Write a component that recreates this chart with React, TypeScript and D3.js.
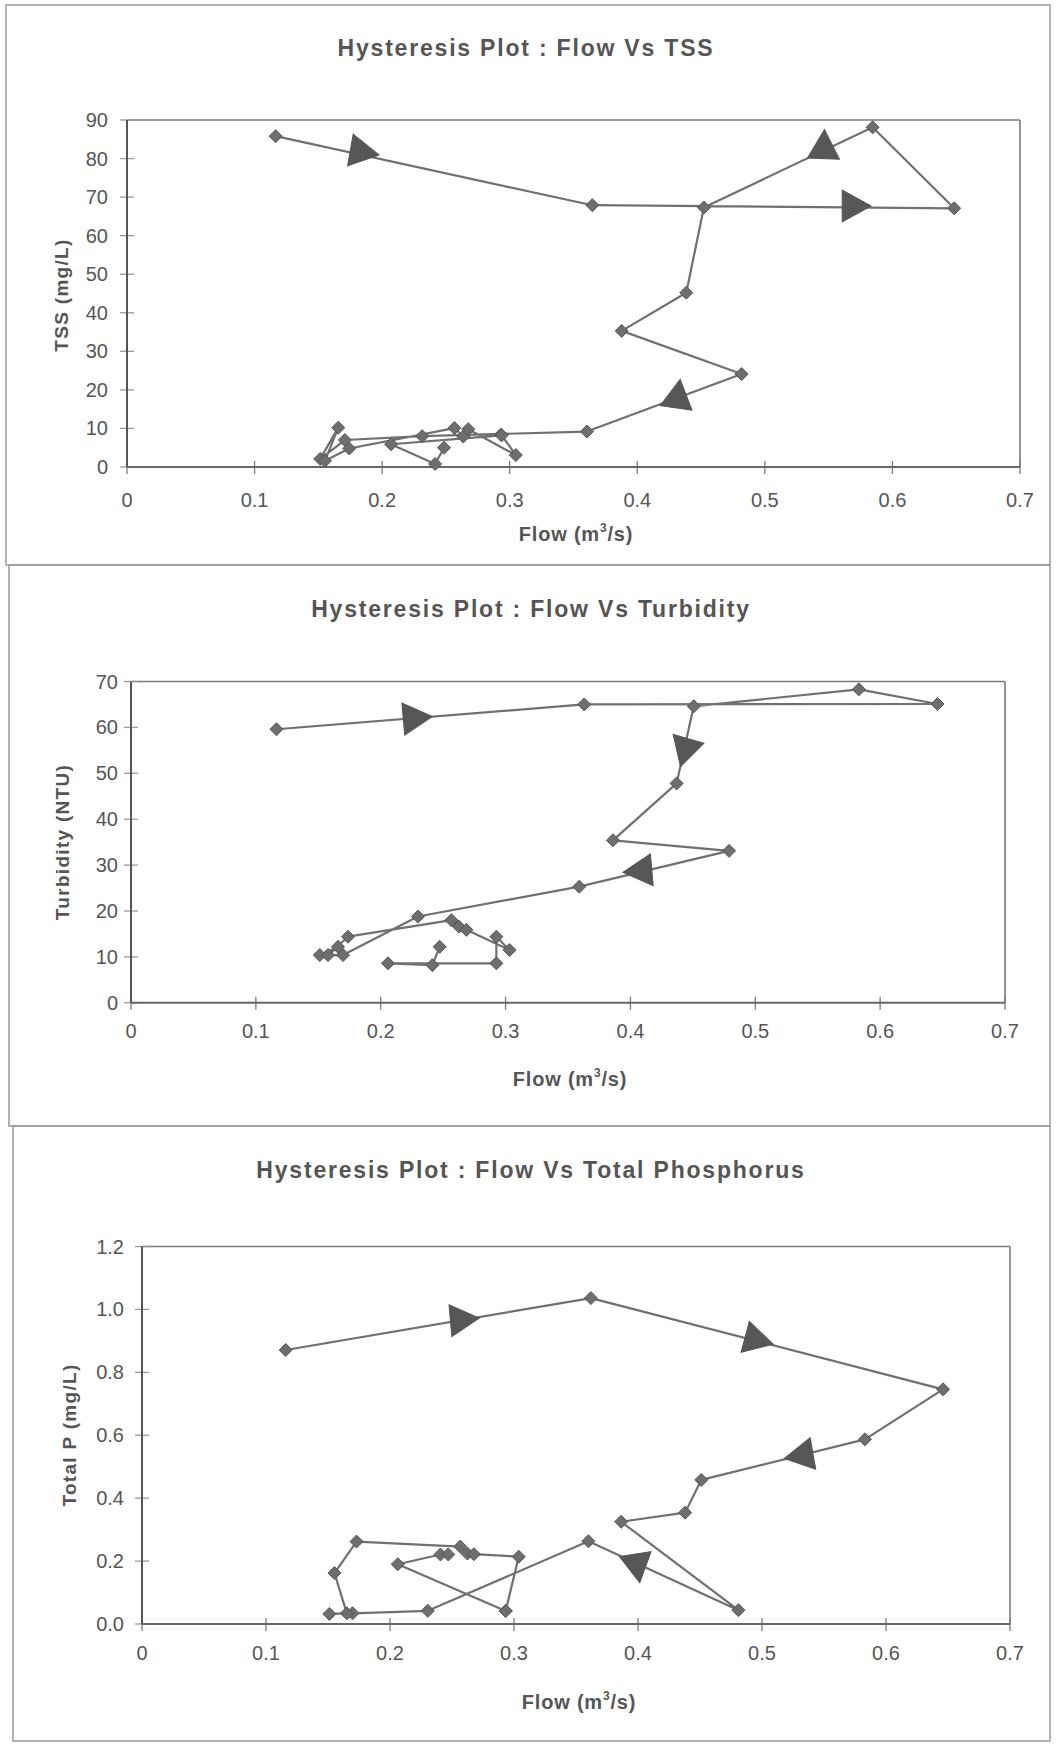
import React from 'react';
import * as d3 from 'd3';

// ---------- data ----------
const flowTicks = [0, 0.1, 0.2, 0.3, 0.4, 0.5, 0.6, 0.7];

const tssFlow = [0.1165, 0.3648, 0.6484, 0.5845, 0.4522, 0.4384, 0.3878, 0.4818, 0.3605, 0.2314, 0.1708, 0.1515, 0.1656, 0.1552, 0.1742, 0.2566, 0.2636, 0.2675, 0.3048, 0.2932, 0.2936, 0.207, 0.2415, 0.2485];
const tssValues = [85.8, 67.9, 67.1, 88.1, 67.3, 45.2, 35.3, 24.1, 9.2, 8.0, 7.0, 2.1, 10.2, 1.6, 4.8, 10.1, 7.9, 9.8, 3.1, 8.4, 8.2, 5.9, 0.8, 5.0];
const tssTicks = [0, 10, 20, 30, 40, 50, 60, 70, 80, 90];

const turbFlow = [0.1165, 0.363, 0.646, 0.583, 0.4507, 0.437, 0.386, 0.479, 0.359, 0.2298, 0.1698, 0.1512, 0.1658, 0.1578, 0.1738, 0.2566, 0.2626, 0.2686, 0.3032, 0.2926, 0.2926, 0.2058, 0.2414, 0.2472];
const turbValues = [59.6, 65.0, 65.1, 68.3, 64.6, 47.8, 35.4, 33.1, 25.3, 18.8, 10.4, 10.4, 12.2, 10.4, 14.4, 18.0, 16.6, 15.9, 11.5, 14.4, 8.6, 8.6, 8.2, 12.2];
const turbTicks = [0, 10, 20, 30, 40, 50, 60, 70];

const tpFlow = [0.1159, 0.362, 0.646, 0.583, 0.451, 0.438, 0.3864, 0.481, 0.36, 0.2305, 0.1698, 0.1511, 0.1652, 0.1552, 0.173, 0.2567, 0.2624, 0.2677, 0.3038, 0.2933, 0.2933, 0.2063, 0.2407, 0.247];
const tpValues = [0.871, 1.036, 0.746, 0.587, 0.458, 0.354, 0.325, 0.044, 0.263, 0.042, 0.034, 0.032, 0.034, 0.162, 0.262, 0.246, 0.224, 0.222, 0.214, 0.042, 0.041, 0.19, 0.221, 0.221];
const tpTicks = [0, 0.2, 0.4, 0.6, 0.8, 1.0, 1.2];

// direction arrows: position in data units, pointing angle in degrees
const tssArrows = [
  { flow: 0.1826, value: 81.8, angle: 10 },
  { flow: 0.5682, value: 67.7, angle: 0 },
  { flow: 0.5462, value: 82.5, angle: -88 },
  { flow: 0.4315, value: 17.8, angle: -82 },
];
const turbArrows = [
  { flow: 0.2258, value: 62.0, angle: -5 },
  { flow: 0.4444, value: 55.5, angle: 106 },
  { flow: 0.4094, value: 28.8, angle: 175 },
];
const tpArrows = [
  { flow: 0.2565, value: 0.967, angle: -5 },
  { flow: 0.494, value: 0.905, angle: 15 },
  { flow: 0.5334, value: 0.537, angle: 170 },
  { flow: 0.399, value: 0.192, angle: 81 },
];

// ---------- layout ----------
const FONT = "'Liberation Sans', Arial, Helvetica, sans-serif";
const TEXT = '#555';

const panels = [
  {
    title: 'Hysteresis Plot : Flow Vs TSS', yLabel: 'TSS (mg/L)',
    flow: tssFlow, values: tssValues, yTicks: tssTicks, yMax: 90, fmt: (v: number) => String(v),
    arrows: tssArrows,
    frame: { left: 6, right: 1050, top: 5, bottom: 565 },
    x0: 127, x1: 1020, yTop: 120, yBottom: 467,
    titleX: 526, titleY: 56, yLabX: 63, yLabY: 295, yTickRight: 108,
    xTickY: 507, xLabX: 576, xLabY: 541,
  },
  {
    title: 'Hysteresis Plot : Flow Vs Turbidity', yLabel: 'Turbidity (NTU)',
    flow: turbFlow, values: turbValues, yTicks: turbTicks, yMax: 70, fmt: (v: number) => String(v),
    arrows: turbArrows,
    frame: { left: 9, right: 1050, top: 565, bottom: 1126 },
    x0: 131, x1: 1005, yTop: 681.5, yBottom: 1002.8,
    titleX: 531, titleY: 617, yLabX: 64, yLabY: 842, yTickRight: 118,
    xTickY: 1038, xLabX: 570, xLabY: 1086,
  },
  {
    title: 'Hysteresis Plot : Flow Vs Total Phosphorus', yLabel: 'Total P (mg/L)',
    flow: tpFlow, values: tpValues, yTicks: tpTicks, yMax: 1.2, fmt: d3.format('.1f'),
    arrows: tpArrows,
    frame: { left: 13, right: 1050, top: 1126, bottom: 1741 },
    x0: 142, x1: 1010, yTop: 1246.5, yBottom: 1624,
    titleX: 531, titleY: 1178, yLabX: 71, yLabY: 1435, yTickRight: 124,
    xTickY: 1660, xLabX: 579, xLabY: 1709,
  },
];

const diamond = (r: number) => `M0,${-r}L${r},0L0,${r}L${-r},0Z`;
const tri = (L: number, B: number) => `M${(2 * L) / 3},0L${-L / 3},${-B / 2}L${-L / 3},${B / 2}Z`;

function Panel({ p }: { p: any }) {
  const x = d3.scaleLinear().domain([0, 0.7]).range([p.x0, p.x1]);
  const y = d3.scaleLinear().domain([0, p.yMax]).range([p.yBottom, p.yTop]);
  const pts: [number, number][] = p.flow.map((f: number, i: number) => [x(f), y(p.values[i])]);
  const path = d3.line()(pts) || '';
  const f = p.frame;
  return (
    <g>
      <rect x={f.left} y={f.top} width={f.right - f.left} height={f.bottom - f.top} fill="none" stroke="#9a9a9a" strokeWidth={1.5} />
      <text x={p.titleX} y={p.titleY} textAnchor="middle" fontFamily={FONT} fontWeight="bold" fontSize={23} letterSpacing={1.8} fill={TEXT}>{p.title}</text>
      {/* plot frame */}
      <line x1={x(0)} x2={x(0.7)} y1={p.yTop} y2={p.yTop} stroke="#7a7a7a" strokeWidth={1.6} />
      <line x1={x(0.7)} x2={x(0.7)} y1={p.yTop} y2={p.yBottom} stroke="#7a7a7a" strokeWidth={1.6} />
      {/* y ticks */}
      {p.yTicks.map((t: number) => (
        <g key={'y' + t}>
          <line x1={x(0) - 7} x2={x(0) + 7} y1={y(t)} y2={y(t)} stroke="#9a9a9a" strokeWidth={1.3} />
          <text x={p.yTickRight} y={y(t) + 7} textAnchor="end" fontFamily={FONT} fontSize={20} fill={TEXT}>{p.fmt(t)}</text>
        </g>
      ))}
      {/* x ticks */}
      {flowTicks.map((t) => (
        <g key={'x' + t}>
          <line x1={x(t)} x2={x(t)} y1={p.yBottom - 6} y2={p.yBottom + 7} stroke="#7a7a7a" strokeWidth={1.3} />
          <text x={x(t)} y={p.xTickY} textAnchor="middle" fontFamily={FONT} fontSize={20} fill={TEXT}>{String(t)}</text>
        </g>
      ))}
      {/* axes */}
      <line x1={x(0)} x2={x(0)} y1={p.yTop} y2={p.yBottom} stroke="#555" strokeWidth={2} />
      <line x1={x(0)} x2={x(0.7)} y1={p.yBottom} y2={p.yBottom} stroke="#666" strokeWidth={2} />
      {/* series */}
      <path d={path} fill="none" stroke="#707070" strokeWidth={2.2} strokeLinejoin="round" />
      {pts.map((pt, i) => (
        <path key={i} d={diamond(6.5)} transform={`translate(${pt[0]},${pt[1]})`} fill="#6e6e6e" stroke="#555" strokeWidth={1} />
      ))}
      {p.arrows.map((a: any, i: number) => (
        <path key={'a' + i} d={tri(29, 32)} transform={`translate(${x(a.flow)},${y(a.value)}) rotate(${a.angle})`} fill="#575757" stroke="#555" strokeWidth={1} />
      ))}
      {/* axis labels */}
      <text transform={`translate(${p.yLabX},${p.yLabY}) rotate(-90)`} textAnchor="middle" dominantBaseline="middle" fontFamily={FONT} fontWeight="bold" fontSize={19} letterSpacing={1.3} fill={TEXT}>{p.yLabel}</text>
      <text x={p.xLabX} y={p.xLabY} textAnchor="middle" fontFamily={FONT} fontWeight="bold" fontSize={20} letterSpacing={0.8} fill={TEXT}>
        Flow (m<tspan dy={-9} fontSize={12}>3</tspan><tspan dy={9}>/s)</tspan>
      </text>
    </g>
  );
}

export default function App() {
  return (
    <svg width={1057} height={1744} style={{ position: 'absolute', left: 0, top: 0, background: '#fff' }}>
      <rect x={0} y={0} width={1057} height={1744} fill="#fff" />
      {panels.map((p, i) => <Panel key={i} p={p} />)}
    </svg>
  );
}
